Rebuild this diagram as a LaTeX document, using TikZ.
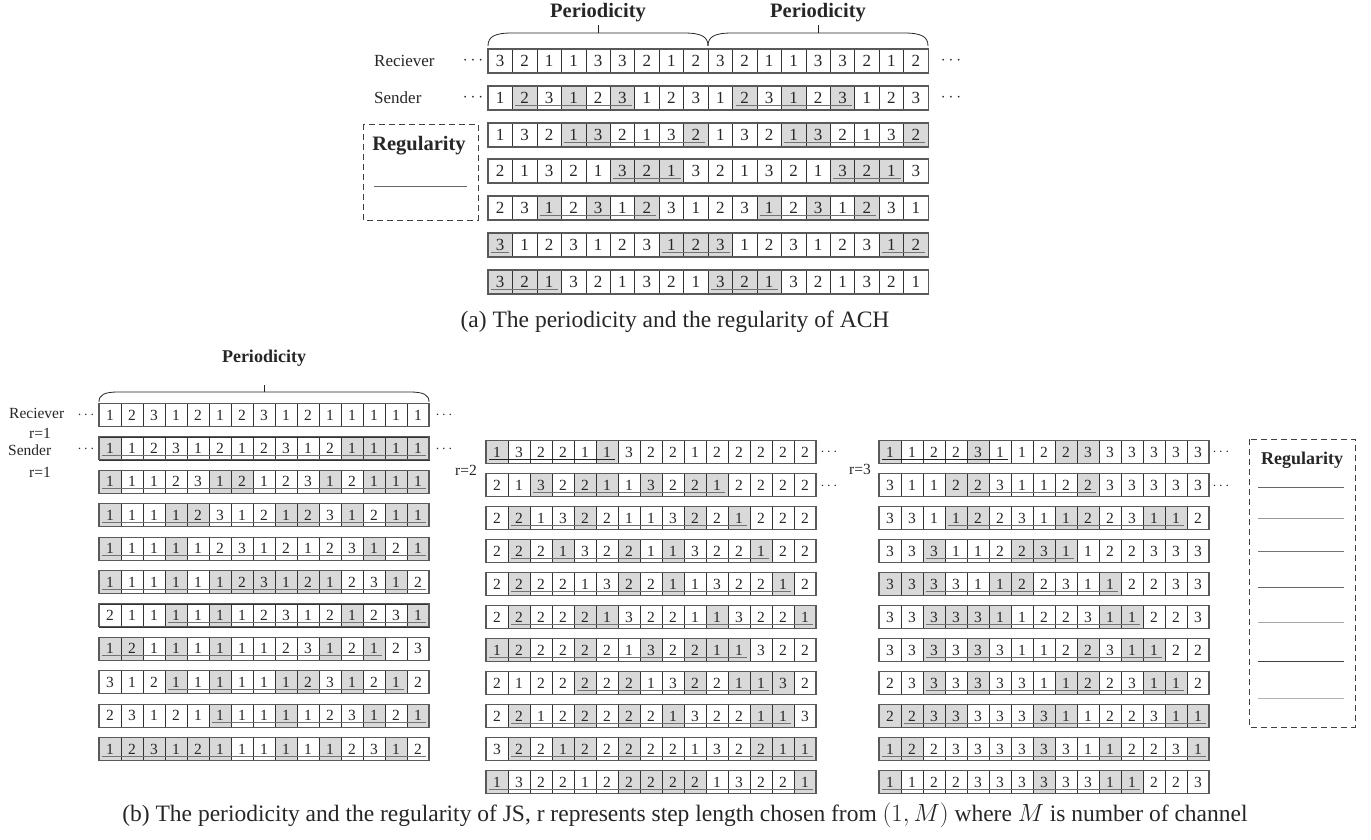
\documentclass[tikz,border=0pt]{standalone}
\usepackage{fontspec}
\setmainfont{Liberation Serif}
\newcommand{\fsA}{\fontsize{17}{17}\selectfont}
\newcommand{\fsB}{\fontsize{15.5}{15.5}\selectfont}
\newcommand{\bfA}{\fontsize{20.5}{20.5}\selectfont\bfseries}
\newcommand{\bfB}{\fontsize{18}{18}\selectfont\bfseries}
\newcommand{\capfont}{\fontsize{23.5}{23.5}\selectfont}
% #1 prefix, #2 x0, #3 yc, #4 w, #5 h, #6 n, #7 digits, #8 shaded, #9 underline ranges
\newcommand{\cellrow}[9]{%
  \foreach \s in {#8}{\ifnum\s>0 \fill[shadecol] ({#2+(\s-1)*#4},{#3-#5/2}) rectangle ++(#4,#5);\fi}
  \foreach \d [count=\i] in {#7}{\node[cellbox,minimum width=#4,minimum height=#5] (#1-\i) at ({#2+(\i-0.5)*#4},#3) {\d};}
  \foreach \a/\b in {#9}{\ifnum\a>0 \draw[uline] ({#2+(\a-1)*#4+3},{#3+#5/2-4.5}) -- ({#2+\b*#4-3},{#3+#5/2-4.5});\fi}
  \draw[rowline] (#2,{#3-#5/2}) rectangle ++({#6*#4},#5);
}
\begin{document}
\begin{tikzpicture}[x=1pt,y=-1pt,
  cellbox/.style={draw=black!80,line width=0.6pt,inner sep=0pt,outer sep=0pt,text=black!85},
  shadecol/.style={fill=black!15},
  uline/.style={draw=black!55,line width=0.9pt},
  ulinedark/.style={draw=black!85,line width=0.9pt},
  rowline/.style={draw=black!65,line width=1.1pt},
  brace/.style={draw=black!85,line width=0.8pt},
  regbox/.style={draw=black!75,line width=0.9pt,dash pattern=on 6pt off 4pt},
  lbl/.style={inner sep=0pt,text=black!85}]
\path[use as bounding box] (0,0) rectangle (1371,840);

% ================= part (a) =================
\begin{scope}[cellbox/.append style={font=\fsA}]
\def\w{24.45}\def\h{24}
\cellrow{aR}{488}{61}{\w}{\h}{18}{3,2,1,1,3,3,2,1,2,3,2,1,1,3,3,2,1,2}{0}{0/0}
\cellrow{aA}{488}{98}{\w}{\h}{18}{1,2,3,1,2,3,1,2,3,1,2,3,1,2,3,1,2,3}{2,4,6,11,13,15}{2/6,11/15}
\cellrow{aB}{488}{135}{\w}{\h}{18}{1,3,2,1,3,2,1,3,2,1,3,2,1,3,2,1,3,2}{4,5,9,13,14,18}{4/9,13/18}
\cellrow{aC}{488}{171}{\w}{\h}{18}{2,1,3,2,1,3,2,1,3,2,1,3,2,1,3,2,1,3}{6,7,8,15,16,17}{6/8,15/17}
\cellrow{aD}{488}{208}{\w}{\h}{18}{2,3,1,2,3,1,2,3,1,2,3,1,2,3,1,2,3,1}{3,5,7,12,14,16}{3/7,12/16}
\cellrow{aE}{488}{245}{\w}{\h}{18}{3,1,2,3,1,2,3,1,2,3,1,2,3,1,2,3,1,2}{1,8,9,10,17,18}{1/1,8/10,17/18}
\cellrow{aF}{488}{282}{\w}{\h}{18}{3,2,1,3,2,1,3,2,1,3,2,1,3,2,1,3,2,1}{1,2,3,10,11,12}{1/3,10/12}
\end{scope}

\node[lbl,font=\fsA,anchor=west] (recA) at (374,61) {Reciever};
\node[lbl,font=\fsA,anchor=west] (senA) at (374,98) {Sender};
\node[lbl,font=\fsA] (dA1) at (473,61) {$\cdots$};
\node[lbl,font=\fsA] (dA2) at (473,98) {$\cdots$};
\node[lbl,font=\fsA] (dA3) at (951,61) {$\cdots$};
\node[lbl,font=\fsA] (dA4) at (951,98) {$\cdots$};

\node[lbl,font=\bfA] (perA1) at (598,13) {Periodicity};
\node[lbl,font=\bfA] (perA2) at (818,13) {Periodicity};
\draw[brace] (488,46) .. controls (488,37) and (494,33) .. (512,33) -- (684,33) .. controls (702,33) and (708,37) .. (708,46);
\draw[brace] (708,46) .. controls (708,37) and (714,33) .. (732,33) -- (904,33) .. controls (922,33) and (928,37) .. (928,46);
\draw[brace] (598,33) -- (598,25);
\draw[brace] (818,33) -- (818,25);

\draw[regbox] (363,124) rectangle (478,220);
\node[lbl,font=\bfA] (regA) at (419,146) {Regularity};
\draw[draw=black!60,line width=0.9pt] (374,186) -- (467,186);

\node[lbl,font=\capfont] (capA) at (675,322) {(a) The periodicity and the regularity of ACH};

% ================= part (b) =================
\begin{scope}[cellbox/.append style={font=\fsB}]
\def\w{22}\def\h{23}
% left grid (r=1)
\cellrow{L0}{99}{415}{\w}{\h}{15}{1,2,3,1,2,1,2,3,1,2,1,1,1,1,1}{0}{0/0}
\cellrow{L1}{99}{448.4}{\w}{\h}{15}{1,1,2,3,1,2,1,2,3,1,2,1,1,1,1}{1,12,13,14,15}{1/15}
\cellrow{L2}{99}{481.8}{\w}{\h}{15}{1,1,1,2,3,1,2,1,2,3,1,2,1,1,1}{1,6,7,11,13,14,15}{1/15}
\cellrow{L3}{99}{515.2}{\w}{\h}{15}{1,1,1,1,2,3,1,2,1,2,3,1,2,1,1}{1,4,5,9,10,12,14,15}{1/15}
\cellrow{L4}{99}{548.6}{\w}{\h}{15}{1,1,1,1,1,2,3,1,2,1,2,3,1,2,1}{1,4,13,15}{1/15}
\cellrow{L5}{99}{582}{\w}{\h}{15}{1,1,1,1,1,1,2,3,1,2,1,2,3,1,2}{1,4,6,7,8,9,10,11,14}{1/15}
\cellrow{L6}{99}{615.4}{\w}{\h}{15}{2,1,1,1,1,1,1,2,3,1,2,1,2,3,1}{4,6,12,15}{4/15}
\cellrow{L7}{99}{648.8}{\w}{\h}{15}{1,2,1,1,1,1,1,1,2,3,1,2,1,2,3}{1,2,4,6,11,13}{1/13}
\cellrow{L8}{99}{682.2}{\w}{\h}{15}{3,1,2,1,1,1,1,1,1,2,3,1,2,1,2}{4,6,9,10,12,14}{4/14}
\cellrow{L9}{99}{715.6}{\w}{\h}{15}{2,3,1,2,1,1,1,1,1,1,2,3,1,2,1}{6,9,13,15}{6/15}
\cellrow{L10}{99}{749}{\w}{\h}{15}{1,2,3,1,2,1,1,1,1,1,1,2,3,1,2}{1,2,3,4,5,6,9,11,14}{1/15}
% middle grid (r=2)
\cellrow{M1}{486}{452}{\w}{\h}{15}{1,3,2,2,1,1,3,2,2,1,2,2,2,2,2}{1,6}{0/0}
\cellrow{M2}{486}{485}{\w}{\h}{15}{2,1,3,2,2,1,1,3,2,2,1,2,2,2,2}{3,5,6,8,10,11}{3/11}
\cellrow{M3}{486}{518}{\w}{\h}{15}{2,2,1,3,2,2,1,1,3,2,2,1,2,2,2}{2,5,10,12}{2/12}
\cellrow{M4}{486}{551}{\w}{\h}{15}{2,2,2,1,3,2,2,1,1,3,2,2,1,2,2}{2,4,7,9,13}{2/13}
\cellrow{M5}{486}{584}{\w}{\h}{15}{2,2,2,2,1,3,2,2,1,1,3,2,2,1,2}{2,7,9,14}{2/14}
\cellrow{M6}{486}{617}{\w}{\h}{15}{2,2,2,2,2,1,3,2,2,1,1,3,2,2,1}{2,5,6,11,15}{2/15}
\cellrow{M7}{486}{650}{\w}{\h}{15}{1,2,2,2,2,2,1,3,2,2,1,1,3,2,2}{1,2,5,8,10,11,12}{1/12}
\cellrow{M8}{486}{683}{\w}{\h}{15}{2,1,2,2,2,2,2,1,3,2,2,1,1,3,2}{5,7,10,12,13,14}{5/13}
\cellrow{M9}{486}{716}{\w}{\h}{15}{2,2,1,2,2,2,2,2,1,3,2,2,1,1,3}{2,5,7,9,13,14}{2/14}
\cellrow{M10}{486}{749}{\w}{\h}{15}{3,2,2,1,2,2,2,2,2,1,3,2,2,1,1}{2,4,5,7,13,14,15}{2/15}
\cellrow{M11}{486}{782}{\w}{\h}{15}{1,3,2,2,1,2,2,2,2,2,1,3,2,2,1}{1,7,8,9,10,15}{1/15}
% right grid (r=3)
\cellrow{R1}{879}{452}{\w}{\h}{15}{1,1,2,2,3,1,1,2,2,3,3,3,3,3,3}{1,5,9,10}{0/0}
\cellrow{R2}{879}{485}{\w}{\h}{15}{3,1,1,2,2,3,1,1,2,2,3,3,3,3,3}{4,5,10}{5/10}
\cellrow{R3}{879}{518}{\w}{\h}{15}{3,3,1,1,2,2,3,1,1,2,2,3,1,1,2}{4,5,9,10,13,14}{4/14}
\cellrow{R4}{879}{551}{\w}{\h}{15}{3,3,3,1,1,2,2,3,1,1,2,2,3,3,3}{3,7,8,9}{3/9}
\cellrow{R5}{879}{584}{\w}{\h}{15}{3,3,3,3,1,1,2,2,3,1,1,2,2,3,3}{1,2,3,6,7,11}{3/11}
\cellrow{R6}{879}{617}{\w}{\h}{15}{3,3,3,3,3,1,1,2,2,3,1,1,2,2,3}{3,4,5,6,11,12}{3/12}
\cellrow{R7}{879}{650}{\w}{\h}{15}{3,3,3,3,3,3,1,1,2,2,3,1,1,2,2}{3,5,10,12,13}{3/13}
\cellrow{R8}{879}{683}{\w}{\h}{15}{2,3,3,3,3,3,3,1,1,2,2,3,1,1,2}{3,5,9,10,13,14}{3/14}
\cellrow{R9}{879}{716}{\w}{\h}{15}{2,2,3,3,3,3,3,3,1,1,2,2,3,1,1}{1,2,3,4,8,9,14,15}{2/15}
\cellrow{R10}{879}{749}{\w}{\h}{15}{1,2,2,3,3,3,3,3,3,1,1,2,2,3,1}{1,2,8,11,15}{1/15}
\cellrow{R11}{879}{782}{\w}{\h}{15}{1,1,2,2,3,3,3,3,3,3,1,1,2,2,3}{1,8,11,12}{1/12}
\end{scope}
\draw[ulinedark] ([xshift=3pt,yshift=4.5pt]M1-1.south west) -- ([xshift=-3pt,yshift=4.5pt]M1-6.south east);
\draw[ulinedark] ([xshift=3pt,yshift=4.5pt]R1-1.south west) -- ([xshift=-3pt,yshift=4.5pt]R1-6.south east);

% labels (b)
\node[lbl,font=\fsB,anchor=west] (recB) at (9,413) {Reciever};
\node[lbl,font=\fsB] (r1a) at (40,433) {r=1};
\node[lbl,font=\fsB,anchor=west] (senB) at (8,450) {Sender};
\node[lbl,font=\fsB] (r1b) at (40,472) {r=1};
\node[lbl,font=\fsB] (dB1) at (86,415) {$\cdots$};
\node[lbl,font=\fsB] (dB2) at (86,449) {$\cdots$};
\node[lbl,font=\fsB] (dB3) at (444,415) {$\cdots$};
\node[lbl,font=\fsB] (dB4) at (444,449) {$\cdots$};
\node[lbl,font=\fsB] (r2) at (466,470) {r=2};
\node[lbl,font=\fsB] (dM1) at (829,452) {$\cdots$};
\node[lbl,font=\fsB] (dM2) at (829,486) {$\cdots$};
\node[lbl,font=\fsB] (r3) at (860,469) {r=3};
\node[lbl,font=\fsB] (dR1) at (1221,452) {$\cdots$};
\node[lbl,font=\fsB] (dR2) at (1221,486) {$\cdots$};

\node[lbl,font=\bfB] (perB) at (264,358) {Periodicity};
\draw[brace] (99,402) .. controls (99,395) and (104,392) .. (118,392) -- (410,392) .. controls (424,392) and (429,395) .. (429,402);
\draw[brace] (264,392) -- (264,385);

\draw[regbox] (1249,439) rectangle (1355,727);
\node[lbl,font=\bfB] (regB) at (1302,460) {Regularity};
\draw[draw=black!60,line width=0.9pt] (1258,487) -- (1344,487);
\draw[draw=black!40,line width=0.9pt] (1258,518) -- (1344,518);
\draw[draw=black!55,line width=0.9pt] (1258,551) -- (1344,551);
\draw[draw=black!60,line width=0.9pt] (1258,587) -- (1344,587);
\draw[draw=black!35,line width=0.9pt] (1258,622) -- (1344,622);
\draw[draw=black!75,line width=0.9pt] (1258,661) -- (1344,661);
\draw[draw=black!30,line width=0.9pt] (1258,698) -- (1344,698);

\node[lbl,font=\capfont] (capB) at (685,815) {(b) The periodicity and the regularity of JS, r represents step length chosen from $(1,M)$ where $M$ is number of channel};
\end{tikzpicture}
\end{document}
